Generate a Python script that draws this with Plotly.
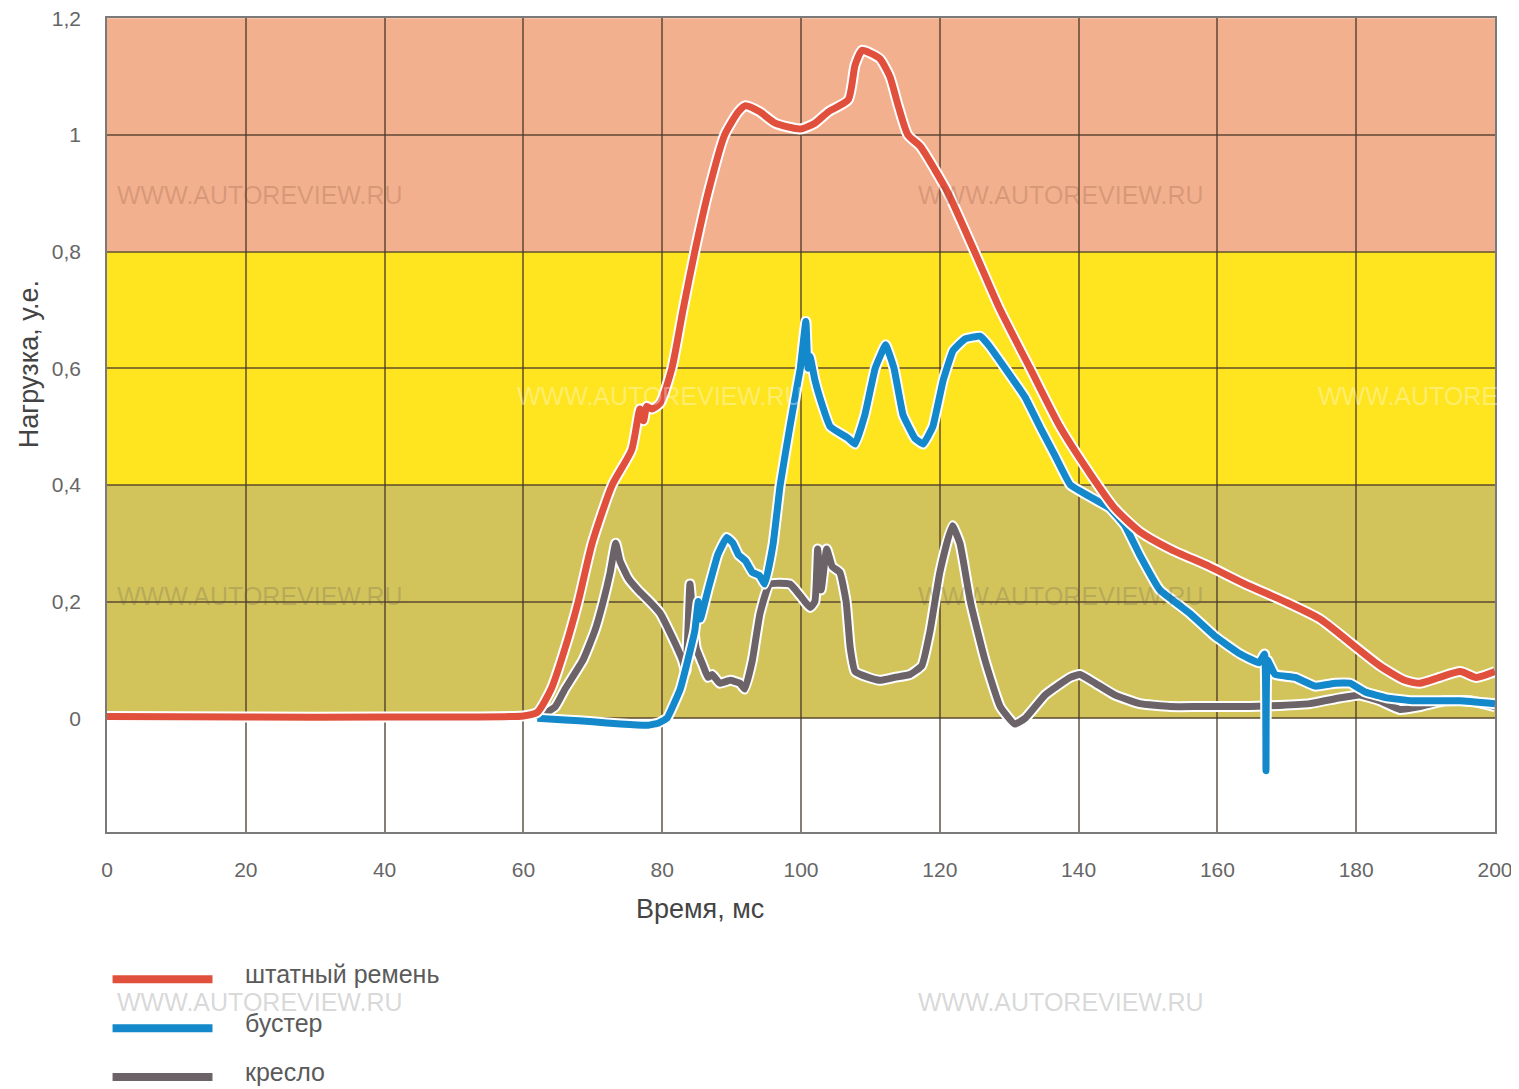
import plotly.graph_objects as go

# ---- data ----
red_x = [0, 20, 40, 60, 62, 64, 66, 67.9, 69.9, 72.8, 75.6, 76.8, 77.3, 77.8, 78.5, 79.7,
         81.4, 83.0, 84.7, 86.6, 89.0, 91.0, 92.0, 94.0, 96.3, 99.9, 102.0, 104.0, 106.8,
         107.8, 108.8, 110.0, 111.4, 112.8, 114.0, 115.4, 117.2, 119.3, 121.2, 125.0,
         128.7, 133.0, 137.3, 141.6, 145.2, 148.8, 153.2, 158.9, 164.0, 169.7, 174.8,
         179.1, 183.4, 187.0, 189.2, 192.0, 195.0, 197.3, 200]
red_y = [0.003, 0.002, 0.002, 0.004, 0.01, 0.05, 0.12, 0.2, 0.3, 0.4, 0.46, 0.53, 0.51,
         0.535, 0.53, 0.54, 0.6, 0.7, 0.8, 0.9, 1.0, 1.04, 1.05, 1.04, 1.02, 1.01, 1.02,
         1.04, 1.06, 1.12, 1.145, 1.14, 1.13, 1.10, 1.05, 1.0, 0.98, 0.94, 0.9, 0.8, 0.7,
         0.6, 0.5, 0.42, 0.36, 0.32, 0.29, 0.26, 0.23, 0.2, 0.17, 0.13, 0.09, 0.065, 0.06,
         0.07, 0.08, 0.07, 0.08]

blue_x = [62, 66, 70, 74, 78, 79.5, 80.7, 82.6, 83.7, 84.7, 85.2, 85.5, 86.6, 88.0, 89.3,
          90.2, 91.0, 92.0, 93.0, 94.0, 94.8, 96.0, 97.0, 98.4, 99.6, 99.9, 100.7, 101.0,
          101.3, 102.0, 102.7, 104.2, 106.8, 107.8, 109.2, 110.7, 112.2, 113.4, 114.7,
          116.4, 117.6, 119.0, 120.5, 121.9, 123.6, 125.8, 127.0, 129.4, 132.3, 134.4,
          136.6, 138.8, 141.6, 144.5, 146.7, 148.8, 151.7, 156.0, 159.7, 163.3, 166.0,
          166.8, 167.0, 167.2, 168.3, 171.2, 174.1, 177.0, 179.1, 181.3, 184.4, 188.0,
          192.0, 195.0, 200]
blue_y = [0.0, -0.003, -0.006, -0.01, -0.012, -0.008, 0.0, 0.05, 0.1, 0.15, 0.2, 0.17,
          0.22, 0.28, 0.31, 0.30, 0.28, 0.27, 0.25, 0.245, 0.23, 0.3, 0.4, 0.5, 0.58, 0.6,
          0.68, 0.6, 0.62, 0.58, 0.55, 0.50, 0.48, 0.47, 0.52, 0.6, 0.64, 0.6, 0.52, 0.48,
          0.47, 0.5, 0.58, 0.63, 0.65, 0.655, 0.64, 0.6, 0.55, 0.5, 0.45, 0.40, 0.38, 0.36,
          0.33, 0.28, 0.22, 0.18, 0.14, 0.11, 0.095, 0.11, -0.09, 0.1, 0.075, 0.07, 0.055,
          0.06, 0.06, 0.045, 0.035, 0.03, 0.03, 0.03, 0.025]

gray_x = [62, 64.6, 66.0, 68.6, 70.3, 71.5, 72.5, 73.3, 73.9, 75.1, 76.5, 78.2, 79.7, 81.4,
          82.9, 83.4, 84.0, 84.5, 84.9, 85.9, 86.6, 87.2, 88.3, 89.8, 91.2, 91.9, 93.0,
          94.1, 95.5, 98.4, 99.9, 101.3, 102.0, 102.4, 102.9, 103.7, 104.5, 105.6, 106.5,
          107.1, 107.8, 109.7, 111.4, 113.5, 115.7, 117.4, 118.6, 120.0, 121.8, 122.9,
          124.4, 126.5, 128.7, 130.8, 132.3, 135.2, 138.8, 140.2, 142.4, 145.2, 148.8,
          153.2, 157.5, 164.7, 169.0, 173.3, 177.7, 180.5, 183.4, 186.3, 189.2, 192.8,
          196.4, 200]
gray_y = [0.0, 0.02, 0.05, 0.1, 0.15, 0.2, 0.25, 0.3, 0.27, 0.24, 0.22, 0.2, 0.18, 0.14,
          0.1, 0.08, 0.23, 0.16, 0.12, 0.09, 0.07, 0.075, 0.06, 0.065, 0.06, 0.05, 0.1,
          0.18, 0.23, 0.23, 0.21, 0.19, 0.2, 0.29, 0.22, 0.29, 0.26, 0.25, 0.2, 0.12, 0.08,
          0.07, 0.065, 0.07, 0.075, 0.09, 0.15, 0.25, 0.33, 0.3, 0.2, 0.1, 0.02, -0.01, 0.0,
          0.04, 0.07, 0.075, 0.06, 0.04, 0.025, 0.02, 0.02, 0.02, 0.022, 0.025, 0.035, 0.04,
          0.03, 0.015, 0.02, 0.03, 0.03, 0.02]

series_names = ["штатный ремень", "бустер", "кресло"]
series_colors = ["#E0503C", "#1388CA", "#6C6368"]

band_edges = [0, 0.4, 0.8, 1.2]
band_colors = ["#D3C35B", "#FFE420", "#F2B08E"]

x_ticks = [0, 20, 40, 60, 80, 100, 120, 140, 160, 180, 200]
y_ticks = [0, 0.2, 0.4, 0.6, 0.8, 1.0, 1.2]
y_tick_labels = ["0", "0,2", "0,4", "0,6", "0,8", "1", "1,2"]

FONT = "Liberation Sans Narrow, Arial Narrow, Liberation Sans, Arial, sans-serif"

fig = go.Figure()

# draw order: gray (bottom), blue, red (top); each with white halo
data = [(gray_x, gray_y, 2, 0.4), (blue_x, blue_y, 1, 0.3), (red_x, red_y, 0, 0.6)]
for xs, ys, i, sm in data:
    fig.add_trace(go.Scatter(x=xs, y=ys, mode="lines", hoverinfo="skip", showlegend=False,
                             line=dict(color="white", width=11, shape="spline", smoothing=sm)))
    fig.add_trace(go.Scatter(x=xs, y=ys, mode="lines", name=series_names[i], showlegend=False,
                             line=dict(color=series_colors[i], width=7, shape="spline",
                                       smoothing=sm)))

shapes = []
for k in range(len(band_colors)):
    shapes.append(dict(type="rect", xref="x", yref="y", x0=0, x1=200,
                       y0=band_edges[k], y1=band_edges[k + 1],
                       fillcolor=band_colors[k], line=dict(width=0), layer="below"))

# custom legend
annotations = []
leg_y = [-0.181, -0.241, -0.301]
for i, name in enumerate(series_names):
    shapes.append(dict(type="line", xref="paper", yref="paper", x0=0.004, x1=0.076,
                       y0=leg_y[i], y1=leg_y[i], line=dict(color=series_colors[i], width=8)))
    annotations.append(dict(xref="paper", yref="paper", x=0.098, y=leg_y[i] + 0.006,
                            text=name, showarrow=False, xanchor="left", yanchor="middle",
                            font=dict(family=FONT, size=25, color="#5a5a5a")))

# axis titles
annotations.append(dict(xref="paper", yref="paper", x=0.4275, y=-0.095, text="Время, мс",
                        showarrow=False, xanchor="center", yanchor="middle",
                        font=dict(family=FONT, size=27, color="#444")))
annotations.append(dict(xref="paper", yref="paper", x=-0.056, y=0.575, text="Нагрузка, у.е.",
                        showarrow=False, xanchor="center", yanchor="middle", textangle=-90,
                        font=dict(family=FONT, size=27, color="#444")))

# watermarks
wm = "WWW.AUTOREVIEW.RU"
wm_pos = [(0.006, 0.783, "rgba(120,70,50,0.22)"), (0.583, 0.783, "rgba(120,70,50,0.22)"),
          (0.006, 0.29, "rgba(80,80,80,0.22)"), (0.583, 0.29, "rgba(80,80,80,0.22)"),
          (0.294, 0.536, "rgba(255,255,255,0.35)"), (0.871, 0.536, "rgba(255,255,255,0.35)"),
          (0.006, -0.209, "rgba(120,120,120,0.3)"), (0.583, -0.209, "rgba(120,120,120,0.3)")]
for x, y, c in wm_pos:
    annotations.append(dict(xref="paper", yref="paper", x=x, y=y, text=wm, showarrow=False,
                            xanchor="left", yanchor="middle",
                            font=dict(family="Liberation Sans, Arial, sans-serif", size=25, color=c)))

fig.update_layout(
    width=1511, height=1081,
    margin=dict(l=99, r=24, t=10, b=257, autoexpand=False),
    paper_bgcolor="white", plot_bgcolor="white",
    shapes=shapes, annotations=annotations,
    xaxis=dict(range=[0, 200], tickvals=x_ticks, showgrid=True, gridcolor="rgba(70,55,40,0.65)",
               gridwidth=1.5, zeroline=False, showline=True, linecolor="#7a7a7a", linewidth=1.5,
               mirror=True, ticks="outside", ticklen=18, tickcolor="rgba(0,0,0,0)",
               automargin=False, ticklabeloverflow="allow",
               tickfont=dict(family=FONT, size=21, color="#666")),
    yaxis=dict(range=[-0.195, 1.2003], tickvals=y_ticks, ticktext=y_tick_labels, showgrid=True,
               gridcolor="rgba(70,55,40,0.65)", gridwidth=1.5, zeroline=False, showline=True,
               linecolor="#7a7a7a", linewidth=1.5, mirror=True, ticks="outside", ticklen=20,
               automargin=False, tickcolor="rgba(0,0,0,0)", ticklabeloverflow="allow",
               tickfont=dict(family=FONT, size=21, color="#666")),
)

fig.write_html("out.html")
